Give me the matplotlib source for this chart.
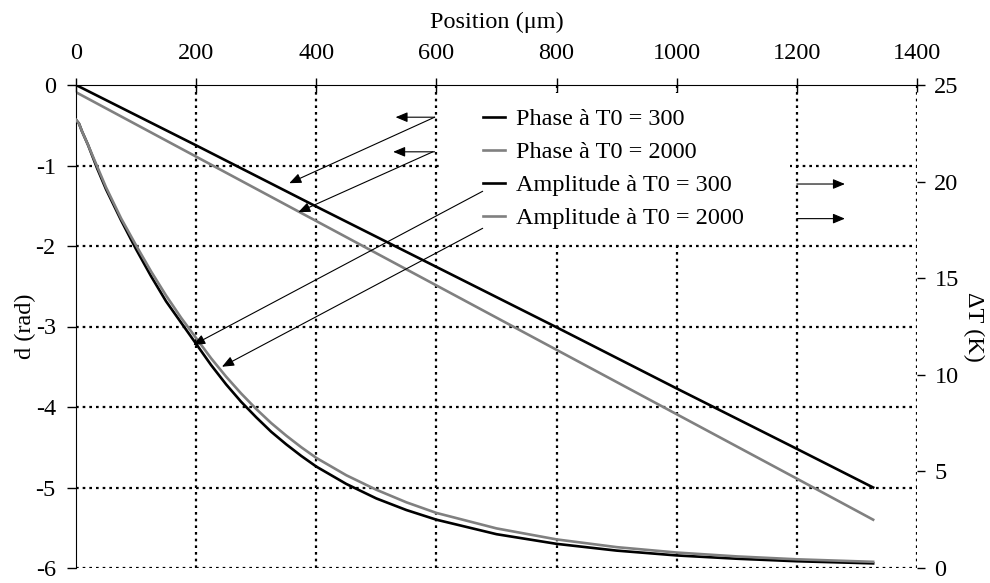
import matplotlib
matplotlib.use('Agg')
import matplotlib.pyplot as plt
from matplotlib.patches import Rectangle

plt.rcParams['font.family'] = ['Liberation Serif', 'DejaVu Serif']
plt.rcParams['axes.unicode_minus'] = False

# Phase (rad), left axis
pos_phase = [0, 200, 400, 600, 800, 1000, 1200, 1327]
phase_300 = [0.0, -0.75, -1.51, -2.26, -3.01, -3.77, -4.52, -5.0]
phase_2000 = [-0.09, -0.89, -1.69, -2.49, -3.29, -4.09, -4.89, -5.4]

# Amplitude (K), right axis
pos_amp = [0, 5, 10, 20, 35, 50, 75, 100, 125, 150, 175, 200, 225, 250, 275,
           300, 325, 350, 375, 400, 450, 500, 550, 600, 700, 800, 900, 1000,
           1100, 1200, 1327]
amp_300 = [23.2, 23.0, 22.6, 21.9, 20.7, 19.6, 18.0, 16.5, 15.1, 13.8, 12.7,
           11.6, 10.5, 9.5, 8.6, 7.8, 7.05, 6.4, 5.8, 5.25, 4.35, 3.6, 3.0,
           2.5, 1.75, 1.25, 0.9, 0.65, 0.48, 0.35, 0.24]
amp_2000 = [23.2, 23.0, 22.6, 21.9, 20.8, 19.7, 18.1, 16.7, 15.35, 14.1, 12.95,
            11.9, 10.85, 9.9, 9.03, 8.23, 7.5, 6.85, 6.25, 5.7, 4.8, 4.05, 3.4,
            2.85, 2.05, 1.48, 1.08, 0.8, 0.6, 0.45, 0.32]

labels = ['Phase à T0 = 300', 'Phase à T0 = 2000',
          'Amplitude à T0 = 300', 'Amplitude à T0 = 2000']

fs = 17.5
grid_style = dict(color='black', linestyle=(0, (1.2, 1.8)), linewidth=1.6)

fig = plt.figure(figsize=(9.9, 5.83), dpi=100)
ax = fig.add_axes([76/990, 15/583, 841/990, 483/583])
ax2 = ax.twinx()

l1, = ax.plot(pos_phase, phase_300, color='black', lw=1.9)
l2, = ax.plot(pos_phase, phase_2000, color='#808080', lw=1.9)
l3, = ax2.plot(pos_amp, amp_300, color='black', lw=1.9)
l4, = ax2.plot(pos_amp, amp_2000, color='#808080', lw=1.9)

ax.set_xlim(0, 1400)
ax.set_ylim(-6, 0)
ax2.set_ylim(0, 25)

ax.xaxis.tick_top()
ax.xaxis.set_label_position('top')
ax.set_xticks(range(0, 1401, 200))
ax.set_yticks(range(-6, 1))
ax2.set_yticks(range(0, 26, 5))

for a in (ax, ax2):
    a.spines['bottom'].set_visible(False)
    a.spines['right'].set_visible(False)
    a.tick_params(labelsize=fs, width=1)
ax2.spines['left'].set_visible(False)
ax2.spines['top'].set_visible(False)
ax.tick_params(axis='x', direction='inout', length=10, pad=10)
ax.tick_params(axis='y', direction='out', length=6.5, pad=8)
ax2.tick_params(axis='y', direction='out', length=5.5, pad=7)

# grid lines
for xv in range(200, 1401, 200):
    ax.axvline(xv, zorder=0.5, **grid_style)
for yv in range(-6, 0):
    ax.axhline(yv, zorder=0.5, **grid_style)

ax.set_xlabel('Position (μm)', fontsize=fs, labelpad=11)
ax.set_ylabel('d (rad)', fontsize=fs, labelpad=0)
ax2.set_ylabel('ΔT (K)', fontsize=fs, rotation=270, labelpad=18)

# white box behind legend
ax2.add_patch(Rectangle((0.433, 0.673), 0.416, 0.31, transform=ax2.transAxes,
                        facecolor='white', edgecolor='none', zorder=3))
leg = ax2.legend([l1, l2, l3, l4], labels, loc='upper left',
                 bbox_to_anchor=(0.484, 0.952), frameon=False, fontsize=fs,
                 handlelength=0.9, handletextpad=0.45, labelspacing=0.45,
                 borderpad=0, borderaxespad=0)
leg.set_zorder(4)

# arrows (in left-axis data units)
def arr(x0, y0, x1, y1):
    ax2.annotate('', xy=(x1, y1), xytext=(x0, y0), xycoords=ax.transData,
                 textcoords=ax.transData, zorder=5,
                 arrowprops=dict(arrowstyle='-|>,head_length=0.6,head_width=0.25',
                                 color='black', lw=0.8, mutation_scale=12,
                                 shrinkA=0, shrinkB=0))

arr(597, -0.4, 532, -0.4)
arr(597, -0.83, 528, -0.83)
arr(597, -0.4, 355, -1.22)
arr(594, -0.83, 370, -1.58)
arr(677, -1.32, 195, -3.23)
arr(677, -1.78, 243, -3.5)
arr(1200, -1.23, 1280, -1.23)
arr(1200, -1.66, 1280, -1.66)

fig.savefig('out.png', dpi=100)
